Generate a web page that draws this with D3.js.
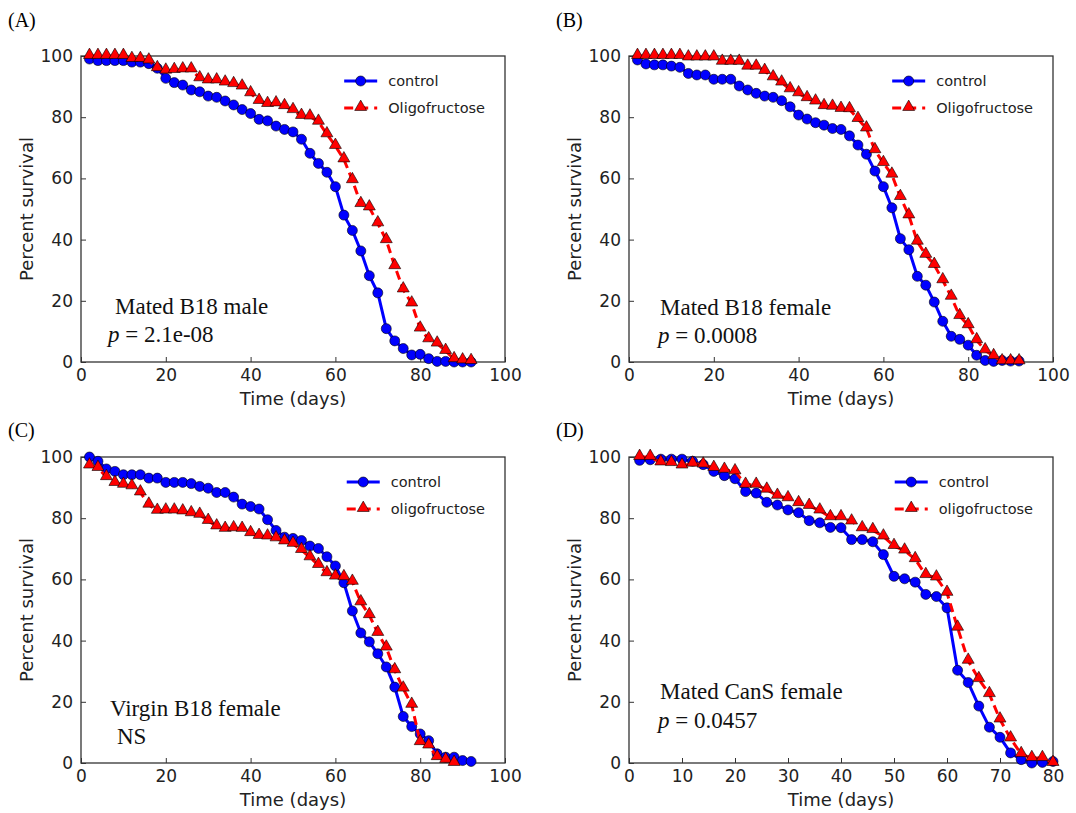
<!DOCTYPE html>
<html>
<head>
<meta charset="utf-8">
<script src="https://cdn.jsdelivr.net/npm/d3@7"></script>
<style>
  body { margin: 0; background: #fff; }
  svg { display: block; }
</style>
</head>
<body>
<div id="fig"></div>
<script>
// ---- data ----
var days92 = [2,4,6,8,10,12,14,16,18,20,22,24,26,28,30,32,34,36,38,40,42,44,46,48,50,
              52,54,56,58,60,62,64,66,68,70,72,74,76,78,80,82,84,86,88,90,92];
var days88 = [2,4,6,8,10,12,14,16,18,20,22,24,26,28,30,32,34,36,38,40,42,44,46,48,50,
              52,54,56,58,60,62,64,66,68,70,72,74,76,78,80,82,84,86,88];
var days80 = [2,4,6,8,10,12,14,16,18,20,22,24,26,28,30,32,34,36,38,40,
              42,44,46,48,50,52,54,56,58,60,62,64,66,68,70,72,74,76,78,80];

// (A) mated B18 male
var aControl = [99,98.5,98.5,98.5,98.5,98,98,97.5,96,92.7,91.3,90.5,88.9,88.3,86.9,86.5,85.3,84,82.5,81.2,
                79.3,78.8,77.1,76,75.2,72.8,68.2,64.9,62,57.3,48,43,36.3,28.2,22.6,10.9,6.9,4.4,2.3,2.5,
                1.1,0.2,0.2,0,0,0];
var aOligo   = [100,100,100,100,100,99,99,98.5,96,95.2,95.4,95.6,95.6,92.7,92,92,91.3,90.8,90,87.8,
                85.3,84.3,84.5,83.6,82.3,80.4,80.2,78.5,74.4,70.6,66.2,59.4,51.6,50.5,45.3,39.8,31.3,23.7,19.1,10.9,
                7.4,6,3.6,0.9,0.5,0.3];
// (B) mated B18 female
var bControl = [98.7,97.4,97.1,97.1,96.7,96.3,94.3,93.8,93.8,92.4,92.4,92.4,90.2,88.9,87.8,86.9,86.5,85.4,83.4,80.7,
                79.4,78.2,77.4,76.3,76,73.9,70.9,67.9,62.4,57.3,50.4,40.3,36.7,28,25.1,19.6,13.3,8.4,7.4,5.5,
                2.2,0.5,0.2,0.5,0.3,0.3];
var bOligo   = [100,100,100,100,100,100,99.5,99.5,99.5,99.5,98.1,98.1,98.1,96.5,96.5,95.1,93,91.3,89.1,87.8,
                86.2,85.1,83.6,83.4,82.7,82.6,79.4,76.3,69.2,65,61.2,53.9,47.9,39.3,35,31.7,26.7,21.3,15,12,
                7.1,3.8,1.9,0.2,0.2,0.2];
// (C) virgin B18 female
var cControl = [100,98.6,96.1,95.3,94.2,94.2,94.2,93.1,93.1,91.7,91.7,91.7,91.3,90.4,89.8,88.4,88.4,86.9,84.6,83.8,
                83,79.5,76,73.8,73.4,72.7,70.9,70.1,67.4,64.4,58.9,49.7,42.5,39.6,35.7,31.4,24.8,15.2,11.9,9.5,
                7.3,3,1.9,1.9,0.8,0.5];
var cOligo   = [97.2,96.4,93.4,91.5,90.9,90.4,88.4,84.4,82.4,82.5,82.5,82.2,81.6,81.1,79.1,77.3,76.5,76.7,76.5,75.1,
                74.2,74,73.4,72.4,71.6,69.6,67.2,64.7,62,60.9,60.7,59.2,52.5,48.3,42.5,37.7,30.3,24.3,19,6.8,
                5.7,1.9,1,0];
// (D) mated CanS female
var dControl = [98.9,99.1,99.3,99.3,99.3,98.6,97.5,95.3,93.9,92.9,88.7,88.2,85.2,84.3,82.7,81.8,79.2,78.5,77,76.9,
                73,73,72.3,68.1,61,60.2,59.1,55.1,54.4,50.7,30.3,26.3,18.6,11.7,8.4,3.3,1.1,0,0.2,0.5];
var dOligo   = [100,100,98.2,98,97.2,97.8,97.5,96.4,95.8,95.3,90.9,90.9,89.3,87.3,86.5,84.9,84,82.5,80.3,80.3,
                78.9,76.7,76.1,74,70.9,69.4,66.6,61.4,60.6,55.6,44.2,33.4,27.4,22.5,14.2,8,2.9,1.6,1.6,0];

var yTicks = [0, 20, 40, 60, 80, 100];
var xTicks100 = [0, 20, 40, 60, 80, 100];
var xTicks80 = [0, 10, 20, 30, 40, 50, 60, 70, 80];

var panels = [
  { letter: "(A)", letterY: 27, xMax: 100, xTicks: xTicks100, left: 81, top: 56,
    control: [days92, aControl], oligo: [days92, aOligo],
    labels: ["control", "Oligofructose"],
    note: ["Mated B18 male", "2.1e-08"], noteX: [34, 27], noteY: [48, 20] },
  { letter: "(B)", letterY: 27, xMax: 100, xTicks: xTicks100, left: 629, top: 56,
    control: [days92, bControl], oligo: [days92, bOligo],
    labels: ["control", "Oligofructose"],
    note: ["Mated B18 female", "0.0008"], noteX: [31, 29], noteY: [47, 19] },
  { letter: "(C)", letterY: 437, xMax: 100, xTicks: xTicks100, left: 81, top: 457,
    control: [days92, cControl], oligo: [days88, cOligo],
    labels: ["control", "oligofructose"],
    note: ["Virgin B18 female", "NS"], noteX: [29, 36], noteY: [47, 19] },
  { letter: "(D)", letterY: 437, xMax: 80, xTicks: xTicks80, left: 629, top: 457,
    control: [days80, dControl], oligo: [days80, dOligo],
    labels: ["control", "oligofructose"],
    note: ["Mated CanS female", "0.0457"], noteX: [31, 29], noteY: [64, 35] }
];

// ---- layout ----
var W = 1076, H = 813;
var pw = 424, ph = 306;
var blue = "#0000ff", red = "#ff0000", frame = "#333";
var sans = "'DejaVu Sans', sans-serif";
var serif = "'Liberation Serif', 'Times New Roman', serif";

var svg = d3.select("#fig").append("svg")
    .attr("width", W)
    .attr("height", H);

var tri = d3.symbol().type(d3.symbolTriangle).size(62);

panels.forEach(function(p) {
  var g = svg.append("g").attr("transform", `translate(${p.left},${p.top})`);

  var x = d3.scaleLinear().domain([0, p.xMax]).range([0, pw]);
  var y = d3.scaleLinear().domain([0, 100]).range([ph, 0]);

  // panel letter
  svg.append("text")
      .attr("x", p.left - 73)
      .attr("y", p.letterY)
      .attr("font-family", serif)
      .attr("font-size", 20)
      .text(p.letter);

  // axes, ticks pointing inward
  var xAxis = d3.axisBottom(x).tickValues(p.xTicks).tickSizeInner(-5).tickSizeOuter(0).tickPadding(7);
  var yAxis = d3.axisLeft(y).tickValues(yTicks).tickSizeInner(-5).tickSizeOuter(0).tickPadding(8);

  var gx = g.append("g").attr("transform", `translate(0,${ph})`).call(xAxis);
  var gy = g.append("g").call(yAxis);
  [gx, gy].forEach(function(a) {
    a.select(".domain").remove();
    a.selectAll("line").attr("stroke", frame);
    a.selectAll("text").attr("font-family", sans).attr("font-size", 17).attr("fill", "#222");
  });

  g.append("rect")
      .attr("width", pw)
      .attr("height", ph)
      .attr("fill", "none")
      .attr("stroke", frame)
      .attr("stroke-width", 1.3);

  // axis titles
  g.append("text")
      .attr("x", pw / 2)
      .attr("y", ph + 43)
      .attr("text-anchor", "middle")
      .attr("font-family", sans)
      .attr("font-size", 18)
      .attr("fill", "#222")
      .text("Time (days)");

  g.append("text")
      .attr("transform", `translate(-48,${ph / 2}) rotate(-90)`)
      .attr("text-anchor", "middle")
      .attr("font-family", sans)
      .attr("font-size", 18)
      .attr("fill", "#222")
      .text("Percent survival");

  // series
  var ctrl = p.control[0].map(function(d, i) { return [d, p.control[1][i]]; });
  var olig = p.oligo[0].map(function(d, i) { return [d, p.oligo[1][i]]; });
  var line = d3.line().x(function(d) { return x(d[0]); }).y(function(d) { return y(d[1]); });

  g.append("path")
      .datum(ctrl)
      .attr("d", line)
      .attr("fill", "none")
      .attr("stroke", blue)
      .attr("stroke-width", 3);

  g.selectAll("circle.ctrl")
      .data(ctrl)
      .enter().append("circle")
      .attr("class", "ctrl")
      .attr("cx", function(d) { return x(d[0]); })
      .attr("cy", function(d) { return y(d[1]); })
      .attr("r", 5)
      .attr("fill", blue)
      .attr("stroke", "#000")
      .attr("stroke-width", 0.6);

  g.append("path")
      .datum(olig)
      .attr("d", line)
      .attr("fill", "none")
      .attr("stroke", red)
      .attr("stroke-width", 3)
      .attr("stroke-dasharray", "9,5");

  g.selectAll("path.olig")
      .data(olig)
      .enter().append("path")
      .attr("class", "olig")
      .attr("transform", function(d) { return `translate(${x(d[0])},${y(d[1]) - 1})`; })
      .attr("d", tri)
      .attr("fill", red)
      .attr("stroke", "#000")
      .attr("stroke-width", 0.6);

  // legend (upper right)
  var lg = g.append("g");
  var texts = p.labels.map(function(t, i) {
    return lg.append("text")
        .attr("y", 25 + i * 27)
        .attr("dy", "0.35em")
        .attr("font-family", sans)
        .attr("font-size", 14.5)
        .attr("fill", "#222")
        .text(t);
  });
  var maxW = d3.max(texts, function(t) { return t.node().getComputedTextLength(); });
  var tx = pw - 20 - maxW;
  texts.forEach(function(t) { t.attr("x", tx); });

  lg.append("line")
      .attr("x1", tx - 44).attr("x2", tx - 11)
      .attr("y1", 25).attr("y2", 25)
      .attr("stroke", blue).attr("stroke-width", 3);
  lg.append("circle")
      .attr("cx", tx - 27.5).attr("cy", 25).attr("r", 5)
      .attr("fill", blue).attr("stroke", "#000").attr("stroke-width", 0.6);

  lg.append("line")
      .attr("x1", tx - 44).attr("x2", tx - 11)
      .attr("y1", 52).attr("y2", 52)
      .attr("stroke", red).attr("stroke-width", 3)
      .attr("stroke-dasharray", "9,6");
  lg.append("path")
      .attr("transform", `translate(${tx - 27.5},51)`)
      .attr("d", tri)
      .attr("fill", red).attr("stroke", "#000").attr("stroke-width", 0.6);

  // annotation
  g.append("text")
      .attr("x", p.noteX[0])
      .attr("y", ph - p.noteY[0])
      .attr("font-family", serif)
      .attr("font-size", 23)
      .attr("fill", "#111")
      .text(p.note[0]);

  var t2 = g.append("text")
      .attr("x", p.noteX[1])
      .attr("y", ph - p.noteY[1])
      .attr("font-family", serif)
      .attr("font-size", 23)
      .attr("fill", "#111");
  if (p.note[1] === "NS") {
    t2.text("NS");
  } else {
    t2.append("tspan").attr("font-style", "italic").text("p");
    t2.append("tspan").text(" = " + p.note[1]);
  }
});
</script>
</body>
</html>
